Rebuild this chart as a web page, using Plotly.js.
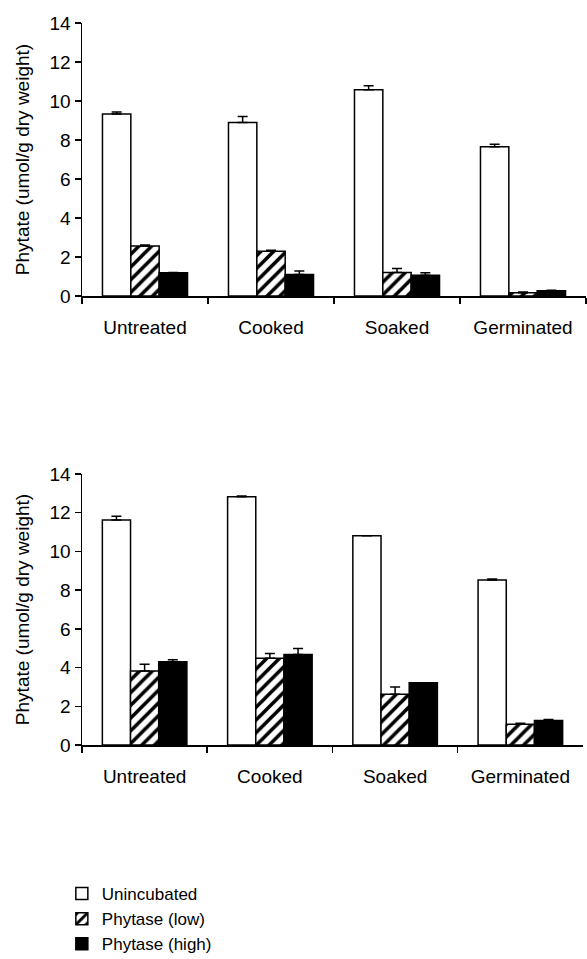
<!DOCTYPE html>
<html>
<head>
<meta charset="utf-8">
<script src="https://cdn.plot.ly/plotly-3.0.1.min.js"></script>
<style>
  html, body { margin: 0; padding: 0; background: #ffffff; }
  #chart { width: 587px; height: 959px; }
</style>
</head>
<body>
<div id="chart"></div>
<script>
// ---- Data ----
const categories = ["Untreated", "Cooked", "Soaked", "Germinated"];
const seriesNames = ["Unincubated", "Phytase (low)", "Phytase (high)"];

// Top panel
const topUnincubated = [9.33, 8.90, 10.58, 7.66];
const topUnincubatedErr = [0.10, 0.30, 0.20, 0.12];
const topLow = [2.57, 2.30, 1.21, 0.17];
const topLowErr = [0.05, 0.05, 0.20, 0.03];
const topHigh = [1.19, 1.10, 1.07, 0.27];
const topHighErr = [0.02, 0.18, 0.12, 0.03];

// Bottom panel
const botUnincubated = [11.62, 12.83, 10.81, 8.52];
const botUnincubatedErr = [0.20, 0.03, 0.00, 0.05];
const botLow = [3.82, 4.48, 2.62, 1.07];
const botLowErr = [0.35, 0.25, 0.38, 0.05];
const botHigh = [4.30, 4.68, 3.22, 1.26];
const botHighErr = [0.10, 0.30, 0.00, 0.06];

const yTicks = [0, 2, 4, 6, 8, 10, 12, 14];
const yTitle = "Phytate (umol/g dry weight)";

// ---- Styles ----
const FONT = "Liberation Sans, Arial, Helvetica, sans-serif";
const styles = [
  { color: "#ffffff", pattern: { shape: "" } },
  { color: "#ffffff", pattern: { shape: "/", fgcolor: "#000000", bgcolor: "#ffffff", size: 9, solidity: 0.4 } },
  { color: "#000000", pattern: { shape: "" } }
];

function makeTrace(vals, errs, idx, xa, ya, showLegend) {
  return {
    type: "bar",
    name: seriesNames[idx],
    x: categories,
    y: vals,
    xaxis: xa,
    yaxis: ya,
    showlegend: showLegend,
    legendgroup: "s" + idx,
    marker: {
      color: styles[idx].color,
      pattern: styles[idx].pattern,
      line: { color: "#000000", width: 1.5 }
    },
    error_y: {
      type: "data",
      symmetric: false,
      array: errs,
      arrayminus: errs.map(() => 0),
      color: "#000000",
      thickness: 1.5,
      width: 5
    },
    hoverinfo: "x+y+name"
  };
}

const data = [
  makeTrace(topUnincubated, topUnincubatedErr, 0, "x", "y", true),
  makeTrace(topLow, topLowErr, 1, "x", "y", true),
  makeTrace(topHigh, topHighErr, 2, "x", "y", true),
  makeTrace(botUnincubated, botUnincubatedErr, 0, "x2", "y2", false),
  makeTrace(botLow, botLowErr, 1, "x2", "y2", false),
  makeTrace(botHigh, botHighErr, 2, "x2", "y2", false)
];

const H = 959;
function yDom(topPx, botPx) { return [(H - botPx) / H, (H - topPx) / H]; }

function xAxis(anchor, domain) {
  return {
    anchor: anchor,
    domain: domain,
    type: "category",
    tickson: "boundaries",
    ticks: "outside",
    ticklen: 6,
    tickwidth: 1.5,
    tickcolor: "#000000",
    showline: true,
    linecolor: "#000000",
    linewidth: 1.5,
    showgrid: false,
    zeroline: false,
    ticklabelstandoff: 14,
    tickfont: { family: FONT, size: 19, color: "#000000" },
    fixedrange: true
  };
}
function yAxis(anchor, domain) {
  return {
    anchor: anchor,
    domain: domain,
    range: [0, 14],
    tickvals: yTicks,
    ticktext: yTicks.map(String),
    ticks: "outside",
    ticklen: 6,
    tickwidth: 1.5,
    tickcolor: "#000000",
    showline: true,
    linecolor: "#000000",
    linewidth: 1.5,
    showgrid: false,
    zeroline: false,
    tickfont: { family: FONT, size: 19, color: "#000000" },
    title: { text: yTitle, font: { family: FONT, size: 19, color: "#000000" }, standoff: 15 },
    fixedrange: true
  };
}

const layout = {
  width: 587,
  height: 959,
  margin: { l: 82, r: 1, t: 0, b: 0, autoexpand: false },
  paper_bgcolor: "#ffffff",
  plot_bgcolor: "#ffffff",
  barmode: "group",
  bargap: 0.325,
  bargroupgap: 0,
  font: { family: FONT, color: "#000000" },
  xaxis: xAxis("y", [0, 1]),
  yaxis: yAxis("x", yDom(23, 296)),
  xaxis2: xAxis("y2", [0, 0.994]),
  yaxis2: yAxis("x2", yDom(474, 745)),
  showlegend: true,
  legend: {
    x: -0.04,
    y: (H - 876) / H,
    xanchor: "left",
    yanchor: "top",
    orientation: "v",
    traceorder: "normal",
    font: { family: FONT, size: 17, color: "#000000" },
    bgcolor: "rgba(0,0,0,0)",
    itemwidth: 30,
    tracegroupgap: 0
  }
};

Plotly.newPlot("chart", data, layout, { displayModeBar: false, staticPlot: true });
</script>
</body>
</html>
